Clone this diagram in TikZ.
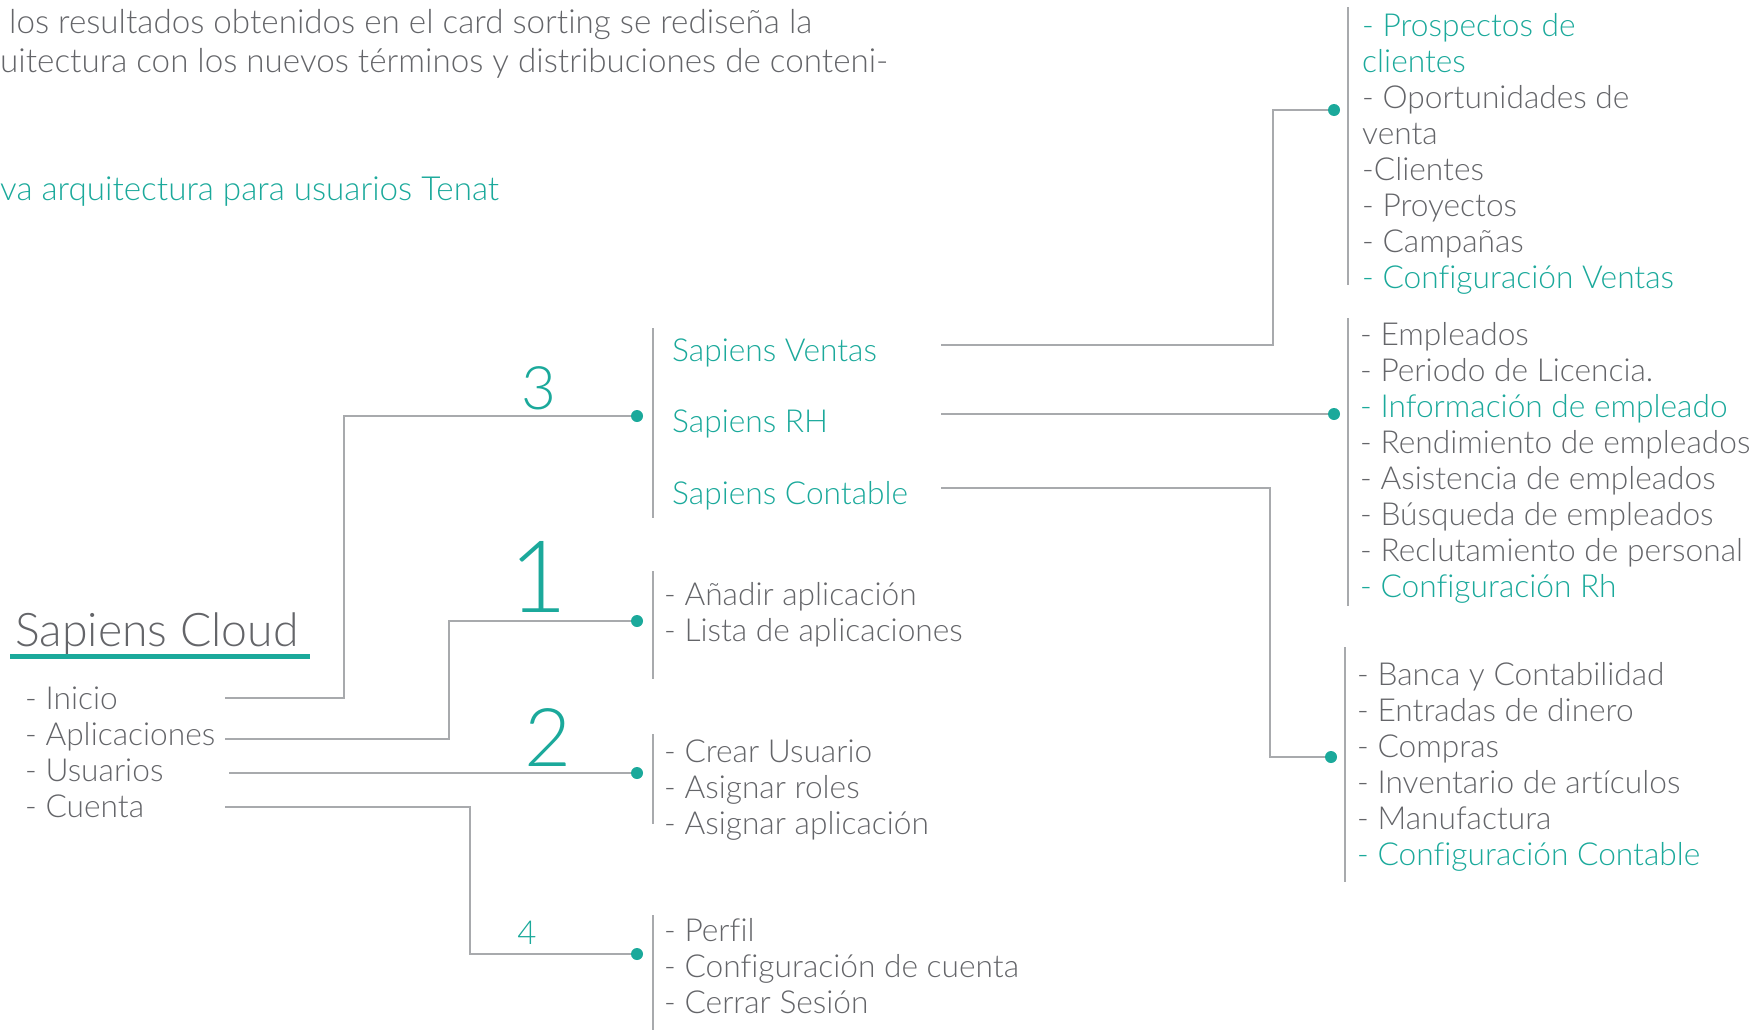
\documentclass[tikz,border=0pt]{standalone}
\usepackage{fontspec}
\IfFontExistsTF{Lato Light}{\setmainfont{Lato Light}[Ligatures=CommonOff]}{\setmainfont{Liberation Sans}}
\definecolor{tealc}{HTML}{1BA99B}
\definecolor{greyt}{HTML}{646569}
\definecolor{greyl}{HTML}{A8AAAD}
\tikzset{
  item/.style={anchor=base west, inner sep=0pt, text=greyt, font=\fontsize{31.7}{36}\selectfont},
  titem/.style={item, text=tealc},
  hitem/.style={anchor=base west, inner sep=0pt, text=greyt, font=\fontsize{33.2}{38}\selectfont},
  conn/.style={draw=greyl, line width=2.6pt},
  bar/.style={draw=greyl, line width=2.6pt},
  dotn/.style={circle, fill=tealc, inner sep=0pt, minimum size=12pt},
  numb/.style={anchor=base, inner sep=0pt, text=tealc}
}
\begin{document}
\begin{tikzpicture}[x=1pt,y=-1pt]
\useasboundingbox (0,0) rectangle (1762,1029);
% header
\node[hitem] (h1) at (9,33) {los resultados obtenidos en el card sorting se rediseña la};
\node[hitem] (h2) at (0,72) {uitectura con los nuevos términos y distribuciones de conteni-};
\node[hitem, text=tealc] (h3) at (0,200) {va arquitectura para usuarios Tenat};
% title
\node[anchor=base west, inner sep=0pt, text=greyt, font=\fontsize{46.4}{50}\selectfont] (title) at (15,646) {Sapiens Cloud};
\draw[draw=tealc, line width=5pt] (10,656) -- (310,656);
% left menu
\node[item] (m1) at (25,709) {- Inicio};
\node[item] (m2) at (25,745) {- Aplicaciones};
\node[item] (m3) at (25,781) {- Usuarios};
\node[item] (m4) at (25,817) {- Cuenta};
\coordinate (s1) at (225,698);
\coordinate (s2) at (225,739);
\coordinate (s3) at (229,773);
\coordinate (s4) at (225,807);
% dots
\node[dotn] (d3) at (637,416) {};
\node[dotn] (d1) at (637,621) {};
\node[dotn] (d2) at (637,773) {};
\node[dotn] (d4) at (637,954) {};
% connectors
\draw[conn] (s1) -- (344,698) |- (d3);
\draw[conn] (s2) -- (449,739) |- (d1);
\draw[conn] (s3) -- (d2);
\draw[conn] (s4) -- (470,807) |- (d4);
% numbers
\node[numb, font=\fontsize{60}{60}\selectfont] (n3) at (539,409) {3};
\node[numb, font=\fontsize{100}{100}\selectfont] (n1) at (538,612) {1};
\node[numb, font=\fontsize{81}{81}\selectfont] (n2) at (548,766) {2};
\node[numb, font=\fontsize{33}{33}\selectfont] (n4) at (527,944) {4};
% bars middle
\draw[bar] (653,328) -- (653,518);
\draw[bar] (653,571) -- (653,679);
\draw[bar] (653,734) -- (653,824);
\draw[bar] (653,915) -- (653,1032);
% middle texts
\node[titem] (sv) at (672,361) {Sapiens Ventas};
\node[titem] (sr) at (672,432) {Sapiens RH};
\node[titem] (sc) at (672,504) {Sapiens Contable};
\node[item] (a1) at (664,605) {- Añadir aplicación};
\node[item] (a2) at (664,641) {- Lista de aplicaciones};
\node[item] (u1) at (664,762) {- Crear Usuario};
\node[item] (u2) at (664,798) {- Asignar roles};
\node[item] (u3) at (664,834) {- Asignar aplicación};
\node[item] (c1) at (664,941) {- Perfil};
\node[item] (c2) at (664,977) {- Configuración de cuenta};
\node[item] (c3) at (664,1013) {- Cerrar Sesión};
% right side
\coordinate (rv) at (941,345);
\coordinate (rr) at (941,414);
\coordinate (rc) at (941,488);
\node[dotn] (dv) at (1334,110) {};
\node[dotn] (dr) at (1334,414) {};
\node[dotn] (dc) at (1331,757) {};
\draw[conn] (rv) -- (1273,345) |- (dv);
\draw[conn] (rr) -- (dr);
\draw[conn] (rc) -- (1270,488) |- (dc);
\draw[bar] (1348,7) -- (1348,285);
\draw[bar] (1348,318) -- (1348,606);
\draw[bar] (1345,647) -- (1345,882);
% ventas list
\node[titem] (v0) at (1362,36) {- Prospectos de};
\node[titem] (v1) at (1362,72) {clientes};
\node[item] (v2) at (1362,108) {- Oportunidades de};
\node[item] (v3) at (1362,144) {venta};
\node[item] (v4) at (1362,180) {-Clientes};
\node[item] (v5) at (1362,216) {- Proyectos};
\node[item] (v6) at (1362,252) {- Campañas};
\node[titem] (v7) at (1362,288) {- Configuración Ventas};
% rh list
\node[item] (r0) at (1360,345) {- Empleados};
\node[item] (r1) at (1360,381) {- Periodo de Licencia.};
\node[titem] (r2) at (1360,417) {- Información de empleado};
\node[item] (r3) at (1360,453) {- Rendimiento de empleados};
\node[item] (r4) at (1360,489) {- Asistencia de empleados};
\node[item] (r5) at (1360,525) {- Búsqueda de empleados};
\node[item] (r6) at (1360,561) {- Reclutamiento de personal};
\node[titem] (r7) at (1360,597) {- Configuración Rh};
% contable list
\node[item] (k0) at (1357,685) {- Banca y Contabilidad};
\node[item] (k1) at (1357,721) {- Entradas de dinero};
\node[item] (k2) at (1357,757) {- Compras};
\node[item] (k3) at (1357,793) {- Inventario de artículos};
\node[item] (k4) at (1357,829) {- Manufactura};
\node[titem] (k5) at (1357,865) {- Configuración Contable};
\end{tikzpicture}
\end{document}
